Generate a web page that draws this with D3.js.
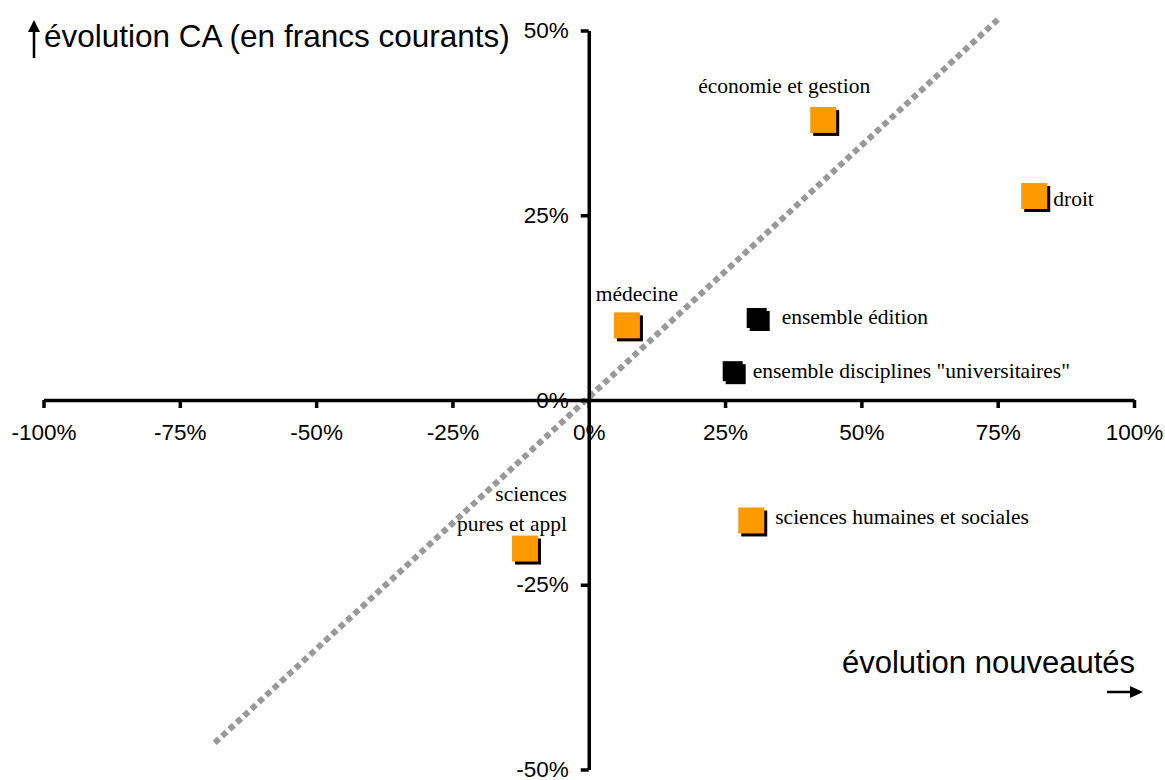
<!DOCTYPE html>
<html>
<head>
<meta charset="utf-8">
<script src="https://cdn.jsdelivr.net/npm/d3@7"></script>
<style>
  html, body { margin: 0; padding: 0; background: #fff; }
  svg { display: block; }
</style>
</head>
<body>
<svg id="chart" width="1165" height="780"></svg>
<script>
// ---- data ----
const categories = [
  "économie et gestion",
  "droit",
  "médecine",
  "ensemble édition",
  "ensemble disciplines \"universitaires\"",
  "sciences humaines et sociales",
  "sciences\npures et appl"
];
const evolNouveautes = [0.43, 0.817, 0.07, 0.308, 0.264, 0.298, -0.117];
const evolCA = [0.379, 0.276, 0.101, 0.111, 0.039, -0.163, -0.201];
const isTotal = [false, false, false, true, true, false, false];
const xTickValues = [-1, -0.75, -0.5, -0.25, 0, 0.25, 0.5, 0.75, 1];
const xTickLabels = ["-100%", "-75%", "-50%", "-25%", "0%", "25%", "50%", "75%", "100%"];
const yTickValues = [-0.5, -0.25, 0, 0.25, 0.5];
const yTickLabels = ["-50%", "-25%", "0%", "25%", "50%"];
const diagX = [-0.686, 0.752];
const diagY = [-0.464, 0.516];
const yTitle = "évolution CA (en francs courants)";
const xTitle = "évolution nouveautés";

// ---- layout / style ----
const labelPlacement = [
  {dx: -39, dy: -27, anchor: "middle"},
  {dx: 19, dy: 10, anchor: "start"},
  {dx: 10, dy: -24, anchor: "middle"},
  {dx: 25, dy: 6, anchor: "start"},
  {dx: 20, dy: 7, anchor: "start"},
  {dx: 24, dy: 4, anchor: "start"},
  {dx: 42, dy: -48, anchor: "end"}
];

const svg = d3.select("#chart");
const x = d3.scaleLinear().domain([-1, 1]).range([43.5, 1134]);
const y = d3.scaleLinear().domain([-0.5, 0.5]).range([769.5, 30.5]);

const sans = "'Liberation Sans', Arial, sans-serif";
const serif = "'Liberation Serif', 'Times New Roman', serif";

// diagonal dotted line
svg.append("line")
  .attr("x1", x(diagX[0])).attr("y1", y(diagY[0]))
  .attr("x2", x(diagX[1])).attr("y2", y(diagY[1]))
  .attr("stroke", "#999")
  .attr("stroke-width", 6)
  .attr("stroke-dasharray", "6,4");

// x axis
const xAxis = d3.axisBottom(x)
  .tickValues(xTickValues)
  .tickFormat((d, i) => xTickLabels[i])
  .tickSizeInner(8).tickSizeOuter(0).tickPadding(16);
const gx = svg.append("g").attr("transform", `translate(0,${y(0)})`).call(xAxis);
gx.select(".domain").attr("stroke", "#000").attr("stroke-width", 3.5);
gx.selectAll(".tick line").attr("stroke", "#000").attr("stroke-width", 3.5);
gx.selectAll(".tick text").attr("font-family", sans).attr("font-size", 22.5).attr("fill", "#000");

// y axis
const yAxis = d3.axisLeft(y)
  .tickValues(yTickValues)
  .tickFormat((d, i) => yTickLabels[i])
  .tickSizeInner(8).tickSizeOuter(0).tickPadding(12);
const gy = svg.append("g").attr("transform", `translate(${x(0)},0)`).call(yAxis);
gy.select(".domain").attr("stroke", "#000").attr("stroke-width", 3.5);
gy.selectAll(".tick line").attr("stroke", "#000").attr("stroke-width", 3.5);
gy.selectAll(".tick text").attr("font-family", sans).attr("font-size", 22.5).attr("fill", "#000");

// points
const pts = categories.map((c, i) => ({c, xv: evolNouveautes[i], yv: evolCA[i], total: isTotal[i], lp: labelPlacement[i]}));
const g = svg.append("g");
pts.forEach(p => {
  const cx = x(p.xv), cy = y(p.yv);
  const s = p.total ? 20 : 26;
  g.append("rect").attr("x", cx - s / 2 + 3).attr("y", cy - s / 2 + 3)
    .attr("width", s).attr("height", s).attr("fill", "#000");
  g.append("rect").attr("x", cx - s / 2).attr("y", cy - s / 2)
    .attr("width", s).attr("height", s).attr("fill", p.total ? "#000" : "#FF9900");
  const lines = p.c.split("\n");
  const t = g.append("text")
    .attr("font-family", serif).attr("font-size", 21.5).attr("fill", "#000")
    .attr("text-anchor", p.lp.anchor);
  lines.forEach((ln, k) => {
    t.append("tspan").attr("x", cx + p.lp.dx).attr("y", cy + p.lp.dy + k * 30).text(ln);
  });
});

// axis titles
svg.append("text").attr("x", 44).attr("y", 47)
  .attr("font-family", sans).attr("font-size", 31.5).attr("fill", "#000").text(yTitle);
svg.append("text").attr("x", 1135).attr("y", 673).attr("text-anchor", "end")
  .attr("font-family", sans).attr("font-size", 31).attr("fill", "#000").text(xTitle);

// arrows
svg.append("line").attr("x1", 34).attr("y1", 58).attr("x2", 34).attr("y2", 30)
  .attr("stroke", "#000").attr("stroke-width", 2.5);
svg.append("path").attr("d", "M28,32 L34,20 L40,32 Z").attr("fill", "#000");
svg.append("line").attr("x1", 1107).attr("y1", 692).attr("x2", 1132).attr("y2", 692)
  .attr("stroke", "#000").attr("stroke-width", 2.5);
svg.append("path").attr("d", "M1130,686 L1143,692 L1130,698 Z").attr("fill", "#000");
</script>
</body>
</html>
